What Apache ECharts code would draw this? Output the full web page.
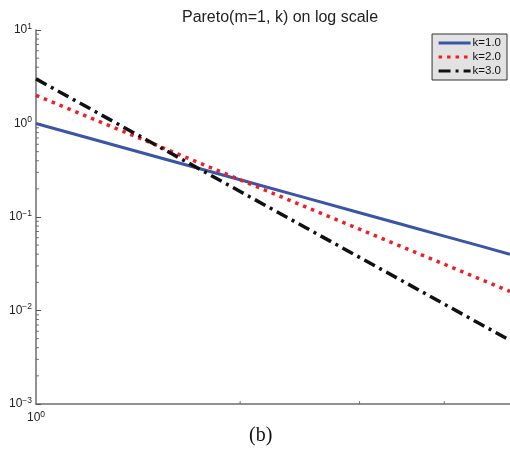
<!DOCTYPE html>
<html><head><meta charset="utf-8">
<script src="https://cdn.jsdelivr.net/npm/echarts@6/dist/echarts.min.js"></script>
<style>html,body{margin:0;padding:0;background:#fff}#c{width:510px;height:460px}</style>
</head><body><div id="c"></div>
<script>
var xValues = [1, 1.5, 2, 2.5, 3, 3.5, 4, 4.5, 5];
var k1 = [1, 0.444, 0.25, 0.16, 0.111, 0.0816, 0.0625, 0.0494, 0.04];
var k2 = [2, 0.593, 0.25, 0.128, 0.0741, 0.0466, 0.0313, 0.0219, 0.016];
var k3 = [3, 0.593, 0.1875, 0.0768, 0.037, 0.02, 0.0117, 0.0073, 0.0048];
var seriesNames = ['k=1.0', 'k=2.0', 'k=3.0'];
var yMinorTicks = [0.002,0.003,0.004,0.005,0.006,0.007,0.008,0.009,0.02,0.03,0.04,0.05,0.06,0.07,0.08,0.09,0.2,0.3,0.4,0.5,0.6,0.7,0.8,0.9,2,3,4,5,6,7,8,9];
var xMinorTicks = [2, 3, 4];

function pairs(ys){ return xValues.map(function(x,i){ return [x, ys[i]]; }); }
var chart = echarts.init(document.getElementById('c'));
var font = 'Liberation Sans, Arial, sans-serif';
var rich = { b: { fontFamily: font, fontSize: 12, color: '#222' }, s: { fontFamily: font, fontSize: 8.5, color: '#222', verticalAlign: 'top', padding: [0,0,7,0] } };
chart.setOption({
  animation: false,
  title: { text: 'Pareto(m=1, k) on log scale', left: 275, textAlign: 'center', top: 5,
    textStyle: { fontFamily: font, fontWeight: 'normal', fontSize: 16, color: '#222' } },
  grid: { left: 36, right: 0, top: 30, bottom: 56 },
  legend: {
    data: seriesNames, orient: 'vertical', right: 3, top: 34,
    backgroundColor: '#e2e2e2', borderColor: '#333', borderWidth: 1, borderRadius: 0,
    padding: [3, 6, 3, 5], itemGap: 2, itemWidth: 32, itemHeight: 10,
    itemStyle: { opacity: 0 },
    lineStyle: { width: 3 },
    textStyle: { fontFamily: font, fontSize: 11.5, color: '#111', padding: [0,0,0,-3] }
  },
  xAxis: { type: 'log', logBase: 10, min: 1, max: 5,
    axisLine: { lineStyle: { color: '#6e6e6e', width: 1.5 } },
    axisTick: { show: false },
    splitLine: { show: false },
    axisLabel: { margin: 6, showMaxLabel: false,
      formatter: function(v){ return Math.abs(v-1)<1e-9 ? '{b|10}{s|0}' : ''; }, rich: rich }
  },
  yAxis: { type: 'log', logBase: 10, min: 0.001, max: 10,
    axisLine: { lineStyle: { color: '#6e6e6e', width: 1.5 } },
    axisTick: { inside: true, length: 5, lineStyle: { color: '#555' } },
    splitLine: { show: false },
    axisLabel: { margin: 4,
      formatter: function(v){ var e = Math.round(Math.log10(v)); return '{b|10}{s|' + (e<0 ? '\u2212' + (-e) : e) + '}'; }, rich: rich }
  },
  graphic: [{ type: 'text', left: 249, top: 426, style: { text: '(b)', font: '20px "Liberation Serif", serif', fill: '#111' } }],
  series: [
    { name: seriesNames[0], type: 'line', data: pairs(k1), showSymbol: false, symbol: 'none',
      lineStyle: { color: '#3a55a5', width: 3 }, itemStyle: { color: '#3a55a5' } },
    { name: seriesNames[1], type: 'line', data: pairs(k2), showSymbol: false, symbol: 'none',
      lineStyle: { color: '#f21d24', width: 3.5, type: [3.5, 5], cap: 'butt' }, itemStyle: { color: '#f21d24' } },
    { name: seriesNames[2], type: 'line', data: pairs(k3), showSymbol: false, symbol: 'none',
      lineStyle: { color: '#111', width: 3.5, type: [12, 5, 3, 5], cap: 'butt' }, itemStyle: { color: '#111' } },
    { type: 'scatter', silent: true, clip: false, symbol: 'rect', symbolSize: [3, 1], symbolOffset: [1.5, 0],
      itemStyle: { color: '#555' }, data: yMinorTicks.map(function(y){ return [1, y]; }) },
    { type: 'scatter', silent: true, clip: false, symbol: 'rect', symbolSize: [1, 3], symbolOffset: [0, -1.5],
      itemStyle: { color: '#555' }, data: xMinorTicks.map(function(x){ return [x, 0.001]; }) }
  ]
});
</script></body></html>
